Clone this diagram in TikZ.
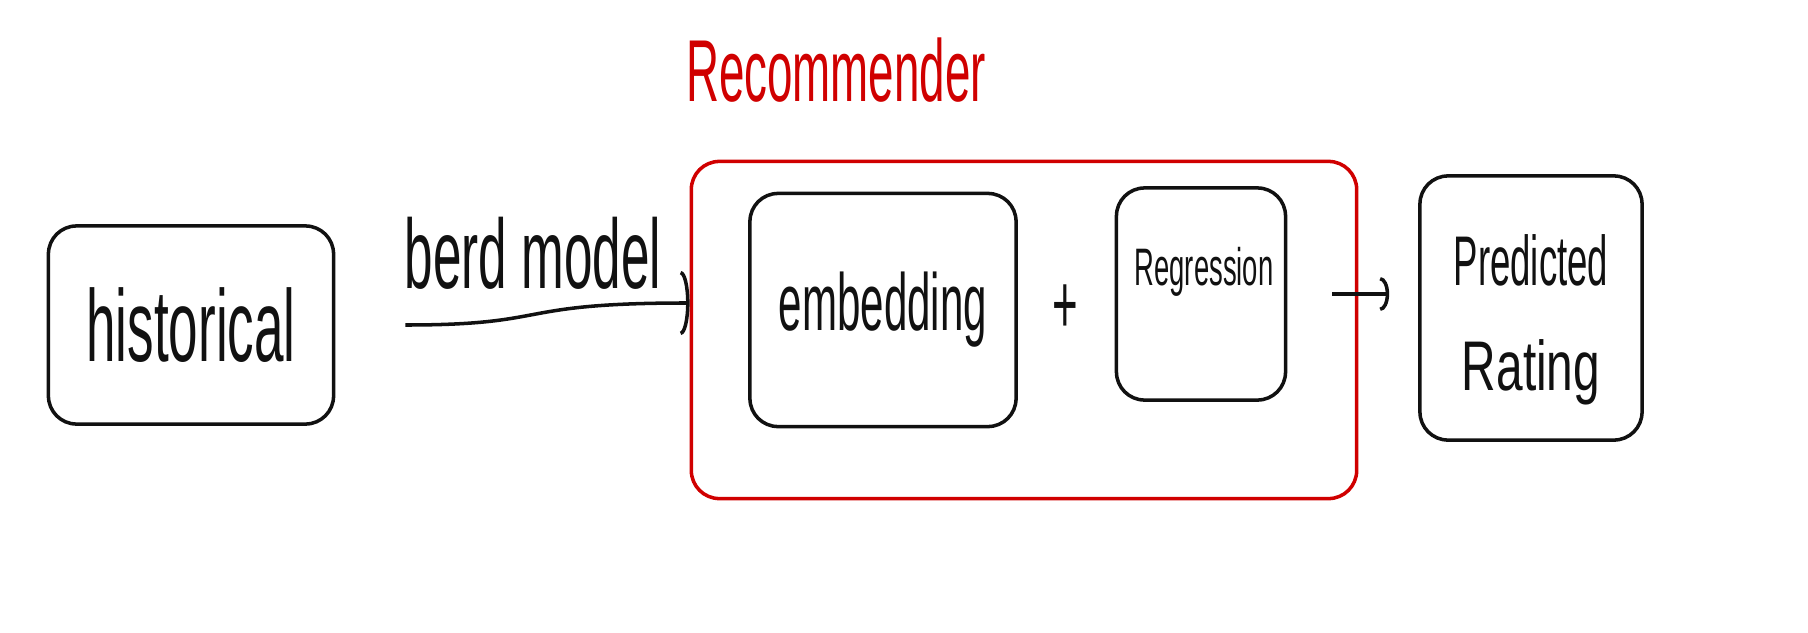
\documentclass[tikz,border=0pt]{standalone}
\usepackage{fontspec}
\newfontfamily\handfont[FakeStretch=0.52]{Liberation Sans}
\usetikzlibrary{arrows.meta, positioning}
\definecolor{cred}{HTML}{D00000}
\definecolor{cink}{HTML}{111111}
\tikzset{
  every picture/.style={line width=1pt},
  sketch/.style={draw=#1, rounded corners=8pt, line width=1pt},
  sketch/.default=cink,
  hand/.style={font=\handfont\fontsize{#1}{#1}\selectfont, inner sep=0pt, text=cink},
  arrow/.style={-{Arc Barb[length=0.9mm, width=#1]}, draw=cink, line width=1pt},
}

\begin{document}
\begin{tikzpicture}[x=0.01cm, y=-0.01cm]
  \useasboundingbox (0,0) rectangle (1808,633);
  \node[sketch, hand=29, minimum width=2.85cm, minimum height=1.98cm] (hist) at (191,325) {historical};
  \node[sketch=cred, minimum width=6.65cm, minimum height=3.37cm] (rec) at (1024,330) {};
  \node[hand=25, text=cred] (rectitle) at (836,70) {Recommender};
  \node[sketch, hand=23, minimum width=2.66cm, minimum height=2.33cm] (embed) at (883,310) {embedding};
  \node[hand=24] (plus) at (1065,309) {+};
  \node[sketch, minimum width=1.69cm, minimum height=2.12cm] (reg) at (1201,294) {};
  \node[hand=15] (regtxt) at (1204,272) {Regression};
  \node[sketch, minimum width=2.22cm, minimum height=2.64cm] (pred) at (1531,308) {};
  \node[hand=20, align=center] (predtxt) at (1531,320) {Predicted\\[0.35cm]{\addfontfeature{FakeStretch=0.68}Rating}};
  \node[hand=28] (bertlbl) at (533,253) {berd model};
  \draw[arrow=6.4mm, shorten <=0.7cm] (hist.east) .. controls +(2.2cm,0) and +(-1.8cm,0) .. ([yshift=0.27cm]rec.west);
  \draw[arrow=3.4mm, shorten <=0.45cm, shorten >=0.29cm] (reg.east) -- (reg.east -| pred.west);
\end{tikzpicture}
\end{document}
